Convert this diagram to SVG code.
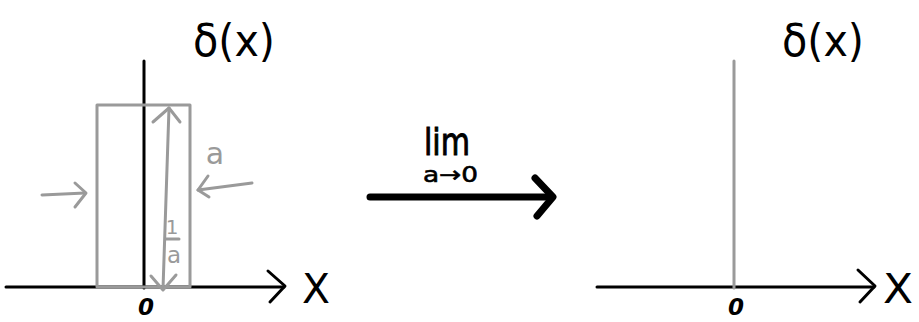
<svg xmlns="http://www.w3.org/2000/svg" width="919" height="322" viewBox="0 0 919 322">
<style>
.k{stroke:#000;fill:none;stroke-width:3;stroke-linecap:round;stroke-linejoin:round}
.g{stroke:#9a9a9a;fill:none;stroke-width:3;stroke-linecap:round;stroke-linejoin:round}
.t{font-family:"DejaVu Sans","Liberation Sans",sans-serif;fill:#000}
.tg{font-family:"DejaVu Sans","Liberation Sans",sans-serif;fill:#9a9a9a}
</style>
<rect width="919" height="322" fill="#fff"/>
<g id="left-plot">
  <line class="k" x1="6" y1="287" x2="284" y2="287"/>
  <polyline class="k" points="268,271 285,286 270,302"/>
  <line class="k" x1="144" y1="61" x2="144" y2="288"/>
  <rect class="g" x="97" y="105" width="93" height="182"/>
  <line class="g" x1="169" y1="108" x2="163" y2="289"/>
  <polyline class="g" points="153,122 169,108 180,122"/>
  <polyline class="g" points="151,276 163,290 176,275"/>
  <line class="g" x1="166" y1="239" x2="179" y2="239"/>
  <text class="tg" x="172" y="234" font-size="20" text-anchor="middle">1</text>
  <text class="tg" x="174" y="263" font-size="23" text-anchor="middle">a</text>
  <text class="tg" x="215" y="164" font-size="30" text-anchor="middle">a</text>
  <line class="g" x1="252" y1="183" x2="198" y2="190"/>
  <polyline class="g" points="208,176 198,190 209,197"/>
  <line class="g" x1="42" y1="195" x2="85" y2="193"/>
  <polyline class="g" points="75,183 86,193 75,207"/>
  <text class="t" x="302" y="303" font-size="40" textLength="28" lengthAdjust="spacingAndGlyphs">X</text>
  <text class="t" x="146" y="315" font-size="23" font-weight="bold" font-style="italic" text-anchor="middle">0</text>
  <text class="t" x="193" y="56" font-size="44" textLength="82" lengthAdjust="spacingAndGlyphs">δ(x)</text>
</g>
<g id="limit-arrow">
  <line x1="370" y1="197" x2="552" y2="197" stroke="#000" stroke-width="7" stroke-linecap="round"/>
  <polyline points="535,178 553,197 537,216" fill="none" stroke="#000" stroke-width="7" stroke-linecap="round" stroke-linejoin="round"/>
  <text class="t" x="424" y="155" font-size="38" stroke="#000" stroke-width="1" textLength="46" lengthAdjust="spacingAndGlyphs">lim</text>
  <text class="t" x="423" y="182" font-size="22" stroke="#000" stroke-width="0.6" textLength="55" lengthAdjust="spacingAndGlyphs">a→0</text>
</g>
<g id="right-plot">
  <line class="k" x1="597" y1="287" x2="874" y2="287"/>
  <polyline class="k" points="858,270 875,286 860,302"/>
  <line class="g" x1="734" y1="61" x2="734" y2="288"/>
  <text class="t" x="883" y="303" font-size="40" textLength="30" lengthAdjust="spacingAndGlyphs">X</text>
  <text class="t" x="736" y="315" font-size="23" font-weight="bold" font-style="italic" text-anchor="middle">0</text>
  <text class="t" x="782" y="56" font-size="44" textLength="82" lengthAdjust="spacingAndGlyphs">δ(x)</text>
</g>
</svg>
